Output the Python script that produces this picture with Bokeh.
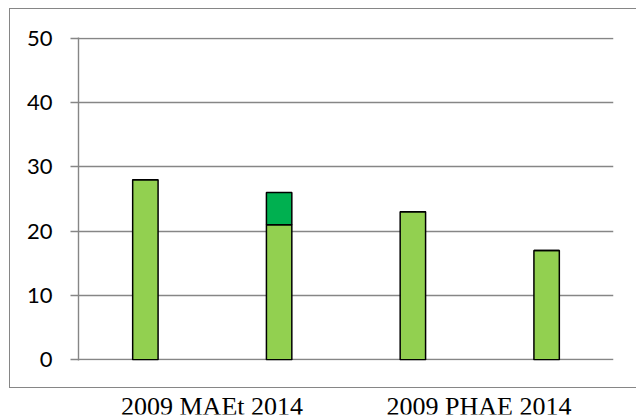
from bokeh.plotting import figure
from bokeh.layouts import column
from bokeh.models import FactorRange, ColumnDataSource, FixedTicker, Range1d
from bokeh.core.properties import value
from bokeh.embed import file_html
from bokeh.resources import INLINE

# ---- data ----
groups = ["2009 MAEt 2014", "2009 PHAE 2014"]
years = ["2009", "2014"]
base_values = [28, 21, 23, 17]
extra_values = [0, 5, 0, 0]
y_ticks = [0, 10, 20, 30, 40, 50]

factors = [(g, y) for g in groups for y in years]

GRAY = "#868686"
LIGHT = "#92D050"
DARK = "#00B050"

x_range = FactorRange(*factors, factor_padding=0, group_padding=0, range_padding=0)

chart = figure(width=627, height=380, margin=(8, 0, 0, 9),
               x_range=x_range,
               y_range=Range1d(y_ticks[0] - 0.1, y_ticks[-1] + 0.1),
               output_backend="svg", toolbar_location=None, x_axis_location=None,
               min_border_left=68, min_border_right=24, min_border_top=28, min_border_bottom=29,
               styles={"box-sizing": "border-box",
                       "border-left": f"1px solid {GRAY}",
                       "border-top": f"1px solid {GRAY}",
                       "border-bottom": f"1px solid {GRAY}"})
chart.outline_line_color = None
chart.background_fill_color = "white"
chart.border_fill_color = "white"

src = ColumnDataSource(dict(x=factors, base=base_values, extra=extra_values))
chart.vbar_stack(["base", "extra"], x="x", width=0.19, source=src,
                 fill_color=[LIGHT, DARK], line_color="black", line_width=1.5)

for g in chart.xgrid:
    g.visible = False
chart.ygrid.ticker = FixedTicker(ticks=y_ticks)
chart.ygrid.grid_line_color = GRAY
chart.ygrid.grid_line_width = 1.4
chart.ygrid.level = "underlay"

ax = chart.yaxis[0]
ax.ticker = FixedTicker(ticks=y_ticks)
ax.axis_line_color = GRAY
ax.axis_line_width = 1.4
ax.major_tick_line_color = GRAY
ax.major_tick_line_width = 1.4
ax.major_tick_out = 8
ax.major_tick_in = 0
ax.minor_tick_line_color = None
ax.major_label_standoff = 18
ax.major_label_text_font = "Lato"
ax.major_label_text_font_size = "22px"
ax.major_label_text_color = "black"

# ---- category labels below the bordered chart ----
labels = figure(width=626, height=28, margin=(0, 0, 0, 10),
                x_range=x_range, y_range=Range1d(0, 1),
                output_backend="svg", toolbar_location=None,
                x_axis_location=None, y_axis_location=None,
                min_border_left=68, min_border_right=24, min_border_top=0, min_border_bottom=2)
labels.outline_line_color = None
labels.xgrid.visible = False
labels.ygrid.visible = False
lab_src = ColumnDataSource(dict(x=groups, y=[0] * len(groups), text=groups))
labels.text(x="x", y="y", text="text", source=lab_src,
            text_font=value("Liberation Serif"), text_font_size="26px",
            text_color="black", text_align="center", text_baseline="alphabetic",
            y_offset=-8)

layout = column(chart, labels, spacing=0)
open("out.html", "w").write(file_html(layout, INLINE))
